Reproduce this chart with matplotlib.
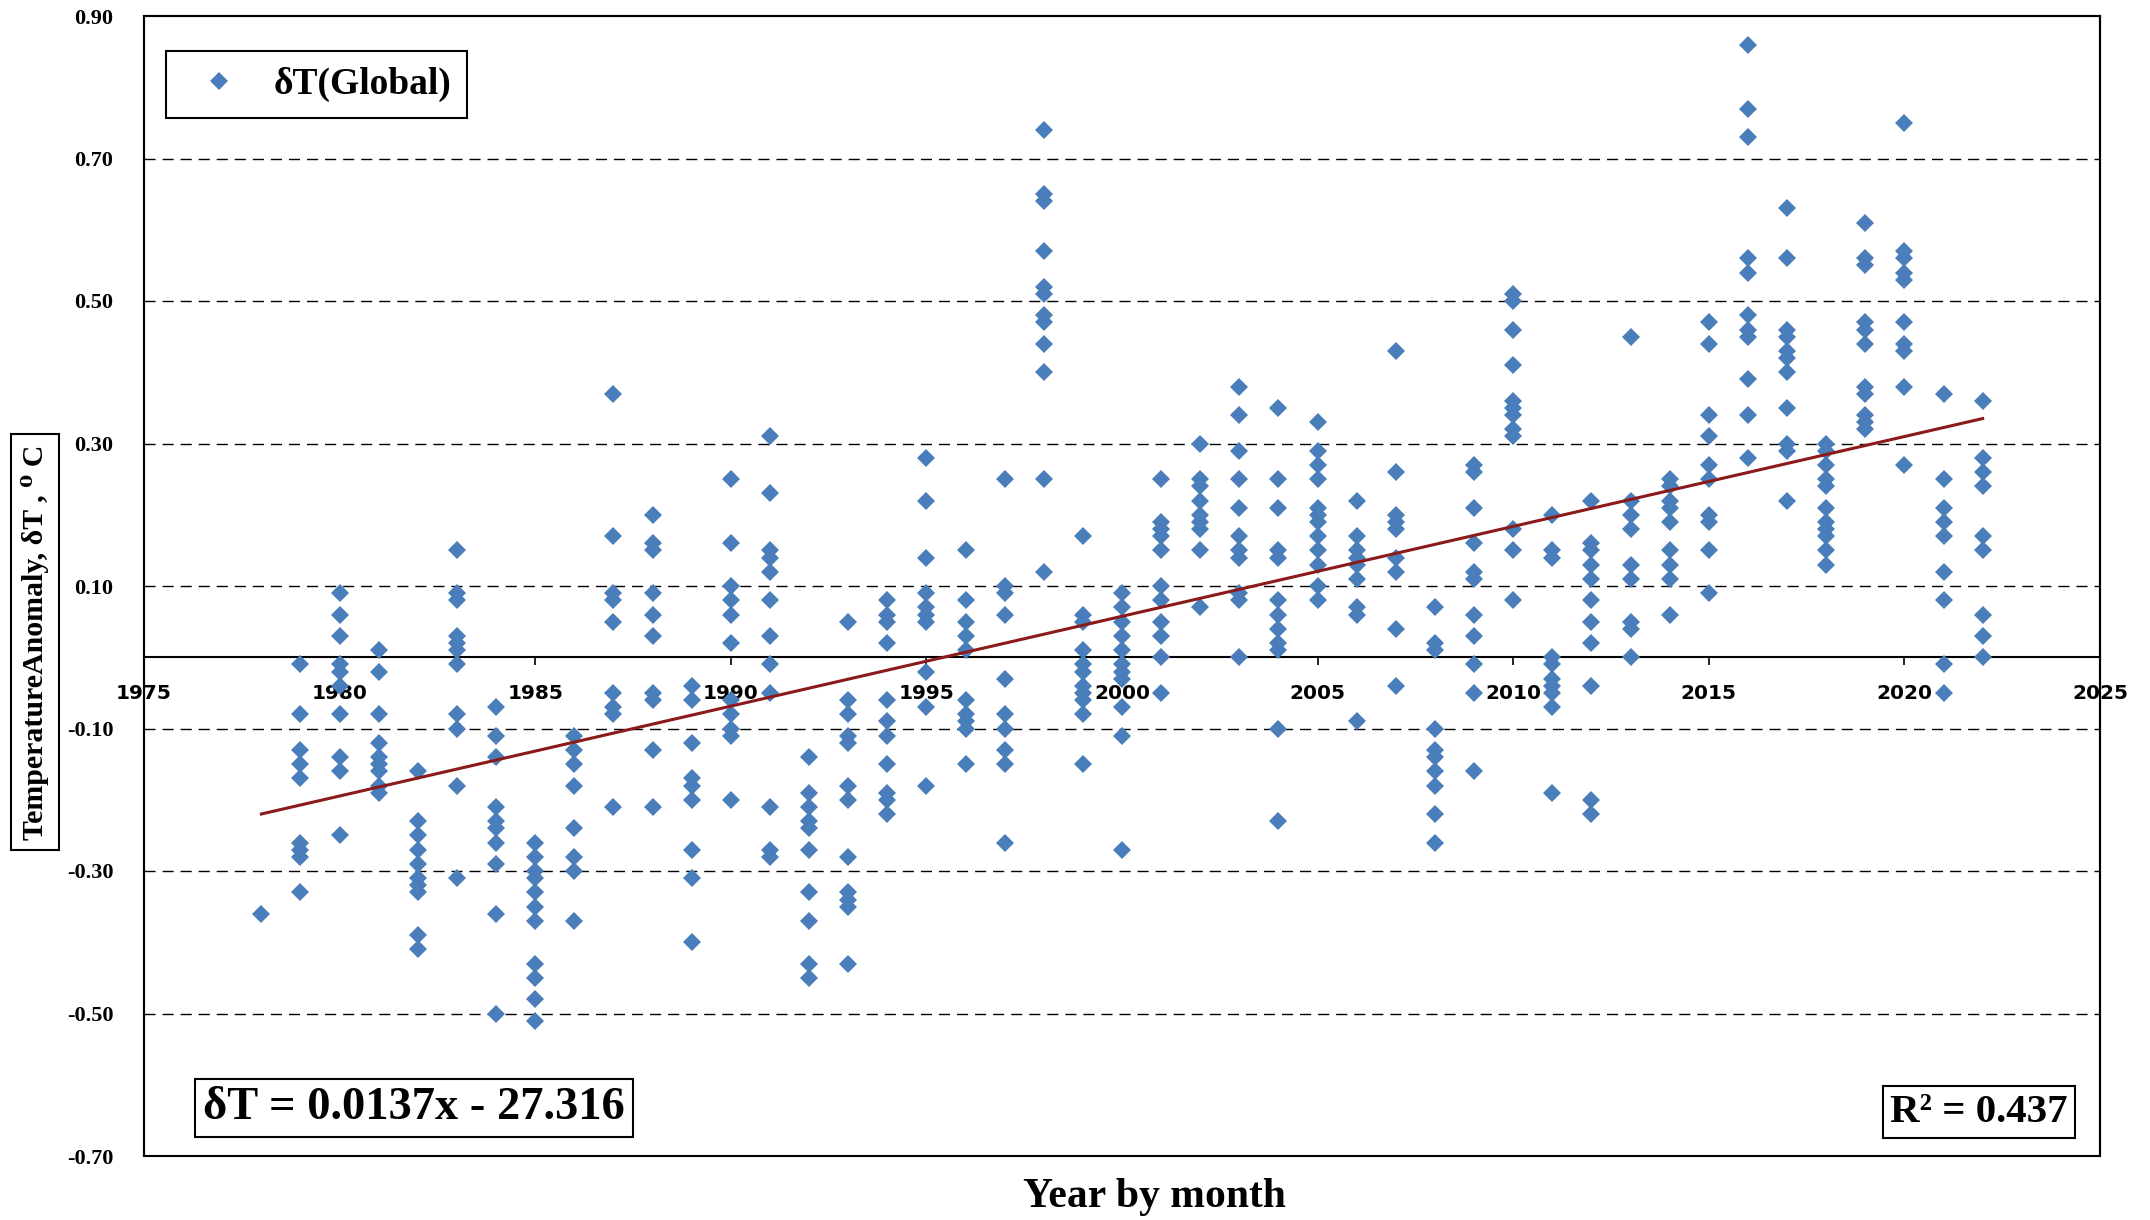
import numpy as np
import matplotlib
matplotlib.use("Agg")
import matplotlib.pyplot as plt
from matplotlib.patches import Rectangle

# ---------------- data (monthly anomalies grouped by year) ----------------
t1978 = [-0.36]
t1979 = [-0.01, -0.08, -0.13, -0.15, -0.17, -0.26, -0.27, -0.28, -0.33]
t1980 = [0.09, 0.06, 0.03, -0.01, -0.02, -0.04, -0.08, -0.14, -0.16, -0.25]
t1981 = [0.01, -0.02, -0.08, -0.12, -0.14, -0.15, -0.16, -0.18, -0.19]
t1982 = [-0.16, -0.23, -0.25, -0.27, -0.29, -0.31, -0.32, -0.33, -0.39, -0.41]
t1983 = [0.15, 0.09, 0.08, 0.03, 0.02, 0.01, -0.01, -0.08, -0.10, -0.18, -0.31]
t1984 = [-0.07, -0.11, -0.14, -0.21, -0.23, -0.24, -0.26, -0.29, -0.36, -0.50]
t1985 = [-0.26, -0.28, -0.30, -0.31, -0.33, -0.35, -0.37, -0.43, -0.45, -0.48, -0.51]
t1986 = [-0.11, -0.13, -0.15, -0.18, -0.24, -0.28, -0.30, -0.37]
t1987 = [0.37, 0.17, 0.09, 0.08, 0.05, -0.05, -0.07, -0.08, -0.21]
t1988 = [0.20, 0.16, 0.15, 0.09, 0.06, 0.03, -0.05, -0.06, -0.13, -0.21]
t1989 = [-0.04, -0.06, -0.12, -0.17, -0.18, -0.20, -0.27, -0.31, -0.40]
t1990 = [0.25, 0.16, 0.10, 0.08, 0.06, 0.02, -0.06, -0.08, -0.10, -0.11, -0.20]
t1991 = [0.31, 0.23, 0.15, 0.14, 0.12, 0.08, 0.03, -0.01, -0.05, -0.21, -0.27, -0.28]
t1992 = [-0.14, -0.19, -0.21, -0.23, -0.24, -0.27, -0.33, -0.37, -0.43, -0.45]
t1993 = [0.05, -0.06, -0.08, -0.11, -0.12, -0.18, -0.20, -0.28, -0.33, -0.34, -0.35, -0.43]
t1994 = [0.08, 0.06, 0.05, 0.02, -0.06, -0.09, -0.11, -0.15, -0.19, -0.20, -0.22]
t1995 = [0.28, 0.22, 0.14, 0.09, 0.07, 0.06, 0.05, -0.02, -0.07, -0.18]
t1996 = [0.15, 0.08, 0.05, 0.03, 0.01, -0.06, -0.08, -0.09, -0.10, -0.15]
t1997 = [0.25, 0.10, 0.09, 0.06, -0.03, -0.08, -0.10, -0.13, -0.15, -0.26]
t1998 = [0.74, 0.65, 0.64, 0.57, 0.52, 0.51, 0.48, 0.47, 0.44, 0.40, 0.25, 0.12]
t1999 = [0.17, 0.06, 0.05, 0.01, -0.01, -0.02, -0.04, -0.05, -0.06, -0.08, -0.15]
t2000 = [0.09, 0.07, 0.05, 0.03, 0.01, -0.01, -0.02, -0.03, -0.07, -0.11, -0.27]
t2001 = [0.25, 0.19, 0.18, 0.17, 0.15, 0.10, 0.08, 0.05, 0.03, 0.00, -0.05]
t2002 = [0.30, 0.25, 0.24, 0.22, 0.20, 0.19, 0.18, 0.15, 0.07]
t2003 = [0.38, 0.34, 0.29, 0.25, 0.21, 0.17, 0.15, 0.14, 0.09, 0.08, 0.00]
t2004 = [0.35, 0.25, 0.21, 0.15, 0.14, 0.08, 0.06, 0.04, 0.02, 0.01, -0.10, -0.23]
t2005 = [0.33, 0.29, 0.27, 0.25, 0.21, 0.20, 0.19, 0.17, 0.15, 0.13, 0.10, 0.08]
t2006 = [0.22, 0.17, 0.15, 0.14, 0.13, 0.11, 0.07, 0.06, -0.09]
t2007 = [0.43, 0.26, 0.20, 0.19, 0.18, 0.14, 0.12, 0.04, -0.04]
t2008 = [0.07, 0.02, 0.01, -0.10, -0.13, -0.14, -0.16, -0.18, -0.22, -0.26]
t2009 = [0.27, 0.26, 0.21, 0.16, 0.12, 0.11, 0.06, 0.03, -0.01, -0.05, -0.16]
t2010 = [0.51, 0.50, 0.46, 0.41, 0.36, 0.35, 0.34, 0.32, 0.31, 0.18, 0.15, 0.08]
t2011 = [0.20, 0.15, 0.14, 0.00, -0.01, -0.03, -0.04, -0.05, -0.07, -0.19]
t2012 = [0.22, 0.16, 0.15, 0.13, 0.11, 0.08, 0.05, 0.02, -0.04, -0.20, -0.22]
t2013 = [0.45, 0.22, 0.20, 0.18, 0.13, 0.11, 0.05, 0.04, 0.00]
t2014 = [0.25, 0.24, 0.22, 0.21, 0.19, 0.15, 0.13, 0.11, 0.06]
t2015 = [0.47, 0.44, 0.34, 0.31, 0.27, 0.25, 0.20, 0.19, 0.15, 0.09]
t2016 = [0.86, 0.77, 0.73, 0.56, 0.54, 0.48, 0.46, 0.45, 0.39, 0.34, 0.28]
t2017 = [0.63, 0.56, 0.46, 0.45, 0.43, 0.42, 0.40, 0.35, 0.30, 0.29, 0.22]
t2018 = [0.30, 0.29, 0.27, 0.25, 0.24, 0.21, 0.19, 0.18, 0.17, 0.15, 0.13]
t2019 = [0.61, 0.56, 0.55, 0.47, 0.46, 0.44, 0.38, 0.37, 0.34, 0.33, 0.32]
t2020 = [0.75, 0.57, 0.56, 0.54, 0.53, 0.47, 0.44, 0.43, 0.38, 0.27]
t2021 = [0.37, 0.25, 0.21, 0.19, 0.17, 0.12, 0.08, -0.01, -0.05]
t2022 = [0.36, 0.28, 0.26, 0.24, 0.17, 0.15, 0.06, 0.03, 0.00]

by_year = [
    (1978, t1978), (1979, t1979), (1980, t1980), (1981, t1981), (1982, t1982),
    (1983, t1983), (1984, t1984), (1985, t1985), (1986, t1986), (1987, t1987),
    (1988, t1988), (1989, t1989), (1990, t1990), (1991, t1991), (1992, t1992),
    (1993, t1993), (1994, t1994), (1995, t1995), (1996, t1996), (1997, t1997),
    (1998, t1998), (1999, t1999), (2000, t2000), (2001, t2001), (2002, t2002),
    (2003, t2003), (2004, t2004), (2005, t2005), (2006, t2006), (2007, t2007),
    (2008, t2008), (2009, t2009), (2010, t2010), (2011, t2011), (2012, t2012),
    (2013, t2013), (2014, t2014), (2015, t2015), (2016, t2016), (2017, t2017),
    (2018, t2018), (2019, t2019), (2020, t2020), (2021, t2021), (2022, t2022),
]

trend_x = [1978, 2022]
trend_y = [-0.22, 0.335]

x_ticks = [1975, 1980, 1985, 1990, 1995, 2000, 2005, 2010, 2015, 2020, 2025]
y_ticks = [-0.70, -0.50, -0.30, -0.10, 0.10, 0.30, 0.50, 0.70, 0.90]

legend_label = "δT(Global)"
equation_text = "δT = 0.0137x - 27.316"
r2_text = "R² = 0.437"
x_title = "Year by month"
y_title = "TemperatureAnomaly, δT , ⁰ C"

# ---------------- figure ----------------
SERIF = ["Liberation Serif", "DejaVu Serif"]
BLUE = "#4A7EBB"

fig = plt.figure(figsize=(21.5, 12.2), dpi=100)
ax = fig.add_axes([144 / 2150, 1 - 1156 / 1220, (2100 - 144) / 2150, (1156 - 16) / 1220])

xs = np.concatenate([[yr] * len(v) for yr, v in by_year])
ys = np.concatenate([v for _, v in by_year])
ax.plot(xs, ys, linestyle="none", marker="D", markersize=9.5,
        markerfacecolor=BLUE, markeredgewidth=0, zorder=3, label=legend_label)
ax.plot(trend_x, trend_y, color="#8B1A1A", lw=2.2, zorder=4)

ax.set_xlim(1975, 2025)
ax.set_ylim(-0.70, 0.90)

# gridlines
for y in y_ticks[1:-1]:
    ax.axhline(y, color="black", lw=1.0, linestyle=(0, (8, 5)), zorder=1)

# x axis crossing at 0
for s in ["top", "left", "right"]:
    ax.spines[s].set_linewidth(1.5)
ax.spines["bottom"].set_position(("data", 0))
ax.spines["bottom"].set_linewidth(1.5)
ax.add_patch(Rectangle((0, 0), 1, 1, transform=ax.transAxes, fill=False,
                       lw=1.5, edgecolor="black", clip_on=False, zorder=5))

ax.set_xticks(x_ticks)
ax.set_xticklabels([str(v) for v in x_ticks], fontsize=14.5, fontweight="bold",
                   family="DejaVu Sans")
ax.tick_params(axis="x", direction="out", length=6, width=1.2, pad=13)

ax.set_yticks(y_ticks)
ax.set_yticklabels([f"{v:.2f}" for v in y_ticks], fontsize=16, fontweight="bold",
                   family=SERIF)
ax.tick_params(axis="y", length=0, pad=22)

# legend
leg = ax.legend(loc="upper left", bbox_to_anchor=(0.011, 0.969), borderaxespad=0,
                fancybox=False, edgecolor="black", framealpha=1,
                prop={"family": SERIF, "weight": "bold", "size": 27},
                handlelength=2.0, handletextpad=0.45, borderpad=0.42, markerscale=1.0)
leg.get_frame().set_linewidth(1.5)

# equation and R² boxes
box = dict(boxstyle="square,pad=0.18", facecolor="white", edgecolor="black", lw=1.5)
fig.text(414 / 2150, 1 - 1108 / 1220, equation_text, ha="center", va="center",
         fontsize=33.5, fontweight="bold", family=SERIF, bbox=box)
fig.text(1979 / 2150, 1 - 1112 / 1220, r2_text, ha="center", va="center",
         fontsize=29.5, fontweight="bold", family=SERIF, bbox=box)

# axis titles
fig.text(1154 / 2150, 1 - 1197 / 1220, x_title, ha="center", va="center",
         fontsize=30, fontweight="bold", family=SERIF)
fig.text(35 / 2150, 1 - 642 / 1220, y_title, ha="center", va="center", rotation=90,
         fontsize=21.5, fontweight="bold", family=SERIF,
         bbox=dict(boxstyle="square,pad=0.35", facecolor="white", edgecolor="black", lw=1.5))

fig.savefig("out.png", dpi=100, facecolor="white")
